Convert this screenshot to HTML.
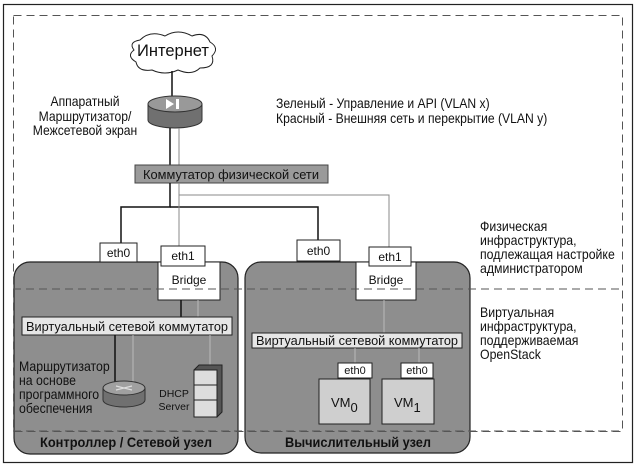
<!DOCTYPE html>
<html><head><meta charset="utf-8"><style>
body{margin:0;background:#fff}
svg{display:block}
text{font-family:"Liberation Sans",sans-serif;fill:#111}
</style></head><body>
<svg width="637" height="468" viewBox="0 0 637 468" xmlns="http://www.w3.org/2000/svg">
<rect x="0" y="0" width="637" height="468" fill="#fff"/>
<rect x="3.5" y="4.5" width="629" height="458" fill="none" stroke="#222" stroke-width="1.2"/>
<rect x="14" y="262" width="224" height="192" rx="16" fill="#8e8e8e" stroke="#222" stroke-width="1.2"/>
<rect x="245" y="262" width="225" height="191" rx="16" fill="#8e8e8e" stroke="#222" stroke-width="1.2"/>
<rect x="13.5" y="15.5" width="609" height="416" fill="none" stroke="#555" stroke-dasharray="8,5"/>
<path d="M140,40 Q150,30 165,36 Q178,28 192,36 Q205,31 210,42 Q220,48 212,56 Q216,68 200,68 Q192,76 178,70 Q165,76 152,70 Q138,72 136,62 Q126,56 134,50 Q128,42 140,40Z" fill="#fff" stroke="#222"/>
<text x="173" y="56" font-size="17" text-anchor="middle" textLength="72" lengthAdjust="spacingAndGlyphs">Интернет</text>
<line x1="172" y1="71" x2="172" y2="97" stroke="#111" stroke-width="1.5"/>
<path d="M148,104 L148,120 A27,8 0 0 0 202,120 L202,104" fill="#707070" stroke="#333"/>
<ellipse cx="175" cy="104" rx="27" ry="8" fill="#999" stroke="#333"/>
<path d="M166,99 L174,104 L166,109Z M176,99 h3 v10 h-3Z" fill="#fff"/>
<g transform="translate(85,0) scale(0.9,1)"><text font-size="13.5" text-anchor="middle"><tspan x="0" y="106">Аппаратный</tspan><tspan x="0" y="121">Маршрутизатор/</tspan><tspan x="0" y="135">Межсетевой экран</tspan></text></g>
<g transform="translate(276,0) scale(0.9,1)"><text font-size="13.5"><tspan x="0" y="108">Зеленый - Управление и API (VLAN x)</tspan><tspan x="0" y="123">Красный - Внешняя сеть и перекрытие (VLAN y)</tspan></text></g>
<line x1="170" y1="128" x2="170" y2="165" stroke="#111" stroke-width="1.5"/>
<line x1="179" y1="128" x2="179" y2="165" stroke="#888"/>
<rect x="135" y="165" width="193" height="18" fill="#9a9a9a" stroke="#444"/>
<text x="231" y="179" font-size="13" text-anchor="middle" textLength="176" lengthAdjust="spacingAndGlyphs">Коммутатор физической сети</text>
<polyline points="170,183 170,207 121,207 121,243" fill="none" stroke="#111" stroke-width="1.5"/>
<polyline points="170,207 318,207 318,240" fill="none" stroke="#111" stroke-width="1.5"/>
<line x1="179" y1="183" x2="179" y2="247" stroke="#888"/>
<polyline points="179,195 389,195 389,247" fill="none" stroke="#888"/>
<rect x="100" y="243" width="37" height="19" fill="#fff" stroke="#222"/>
<text x="118.5" y="257" font-size="12" text-anchor="middle">eth0</text>
<rect x="158" y="262" width="62" height="38" fill="#fff" stroke="#222"/>
<rect x="161" y="246" width="44" height="20" fill="#fff" stroke="#222"/>
<text x="183" y="260" font-size="12" text-anchor="middle">eth1</text>
<text x="189" y="284" font-size="12" text-anchor="middle">Bridge</text>
<rect x="297" y="240" width="43" height="21" fill="#fff" stroke="#222"/>
<text x="318.5" y="255" font-size="12" text-anchor="middle">eth0</text>
<rect x="356" y="262" width="60" height="38" fill="#fff" stroke="#222"/>
<rect x="369" y="247" width="42" height="19" fill="#fff" stroke="#222"/>
<text x="390" y="261" font-size="12" text-anchor="middle">eth1</text>
<text x="386" y="284" font-size="12" text-anchor="middle">Bridge</text>
<line x1="13" y1="289" x2="622" y2="289" stroke="#555" stroke-dasharray="8,5"/>
<line x1="181" y1="300" x2="181" y2="317" stroke="#111" stroke-width="1.5"/>
<line x1="198" y1="300" x2="198" y2="317" stroke="#bbb"/>
<rect x="22" y="317" width="210" height="18" fill="#e6e6e6" stroke="#222"/>
<text x="127" y="331" font-size="13" text-anchor="middle" textLength="202" lengthAdjust="spacingAndGlyphs">Виртуальный сетевой коммутатор</text>
<line x1="115" y1="335" x2="115" y2="384" stroke="#111" stroke-width="1.5"/>
<line x1="133" y1="335" x2="133" y2="384" stroke="#bbb"/>
<line x1="210" y1="335" x2="210" y2="366" stroke="#bbb"/>
<path d="M103,388 L103,400 A21,7 0 0 0 145,400 L145,388" fill="#707070" stroke="#333"/>
<ellipse cx="124" cy="388" rx="21" ry="7" fill="#a0a0a0" stroke="#333"/>
<path d="M116,386 l16,4 M116,390 l16,-4" stroke="#ddd" stroke-width="1.2"/>
<g transform="translate(19,0) scale(0.88,1)"><text font-size="14"><tspan x="0" y="371">Маршрутизатор</tspan><tspan x="0" y="385">на основе</tspan><tspan x="0" y="399">программного</tspan><tspan x="0" y="413">обеспечения</tspan></text></g>
<path d="M194,370 L199,365 L222,365 L222,412 L217,417 Z" fill="#555" stroke="#222"/>
<rect x="194" y="370" width="23" height="47" fill="#ddd" stroke="#222"/>
<line x1="194" y1="385" x2="217" y2="385" stroke="#222"/>
<line x1="194" y1="400" x2="217" y2="400" stroke="#222"/>
<text font-size="10.5" text-anchor="middle"><tspan x="174" y="397">DHCP</tspan><tspan x="174" y="410">Server</tspan></text>
<line x1="384" y1="300" x2="384" y2="333" stroke="#bbb"/>
<rect x="252" y="333" width="210" height="15" fill="#e6e6e6" stroke="#222"/>
<text x="357" y="345" font-size="13" text-anchor="middle" textLength="202" lengthAdjust="spacingAndGlyphs">Виртуальный сетевой коммутатор</text>
<line x1="355" y1="348" x2="355" y2="363" stroke="#bbb"/>
<line x1="419" y1="348" x2="419" y2="363" stroke="#bbb"/>
<rect x="319" y="379" width="51" height="45" fill="#cfcfcf" stroke="#222"/>
<rect x="382" y="379" width="52" height="45" fill="#cfcfcf" stroke="#222"/>
<rect x="338" y="363" width="34" height="15" fill="#fff" stroke="#222"/>
<rect x="401" y="363" width="32" height="15" fill="#fff" stroke="#222"/>
<text x="355" y="374" font-size="11" text-anchor="middle">eth0</text>
<text x="417" y="374" font-size="11" text-anchor="middle">eth0</text>
<text x="331" y="407" font-size="13">VM<tspan font-size="13" dy="5">0</tspan></text>
<text x="394" y="407" font-size="13">VM<tspan font-size="13" dy="5">1</tspan></text>
<line x1="13" y1="431" x2="622" y2="431" stroke="#555" stroke-dasharray="8,5"/>
<text x="126" y="447" font-size="13.5" font-weight="bold" text-anchor="middle" textLength="172" lengthAdjust="spacingAndGlyphs">Контроллер / Сетевой узел</text>
<text x="358" y="447" font-size="13.5" font-weight="bold" text-anchor="middle" textLength="146" lengthAdjust="spacingAndGlyphs">Вычислительный узел</text>
<g transform="translate(480,0) scale(0.88,1)"><text font-size="14"><tspan x="0" y="231">Физическая</tspan><tspan x="0" y="245">инфраструктура,</tspan><tspan x="0" y="259">подлежащая настройке</tspan><tspan x="0" y="273">администратором</tspan></text></g>
<g transform="translate(480,0) scale(0.88,1)"><text font-size="14"><tspan x="0" y="317">Виртуальная</tspan><tspan x="0" y="331">инфраструктура,</tspan><tspan x="0" y="345">поддерживаемая</tspan><tspan x="0" y="359">OpenStack</tspan></text></g>
</svg>
</body></html>
